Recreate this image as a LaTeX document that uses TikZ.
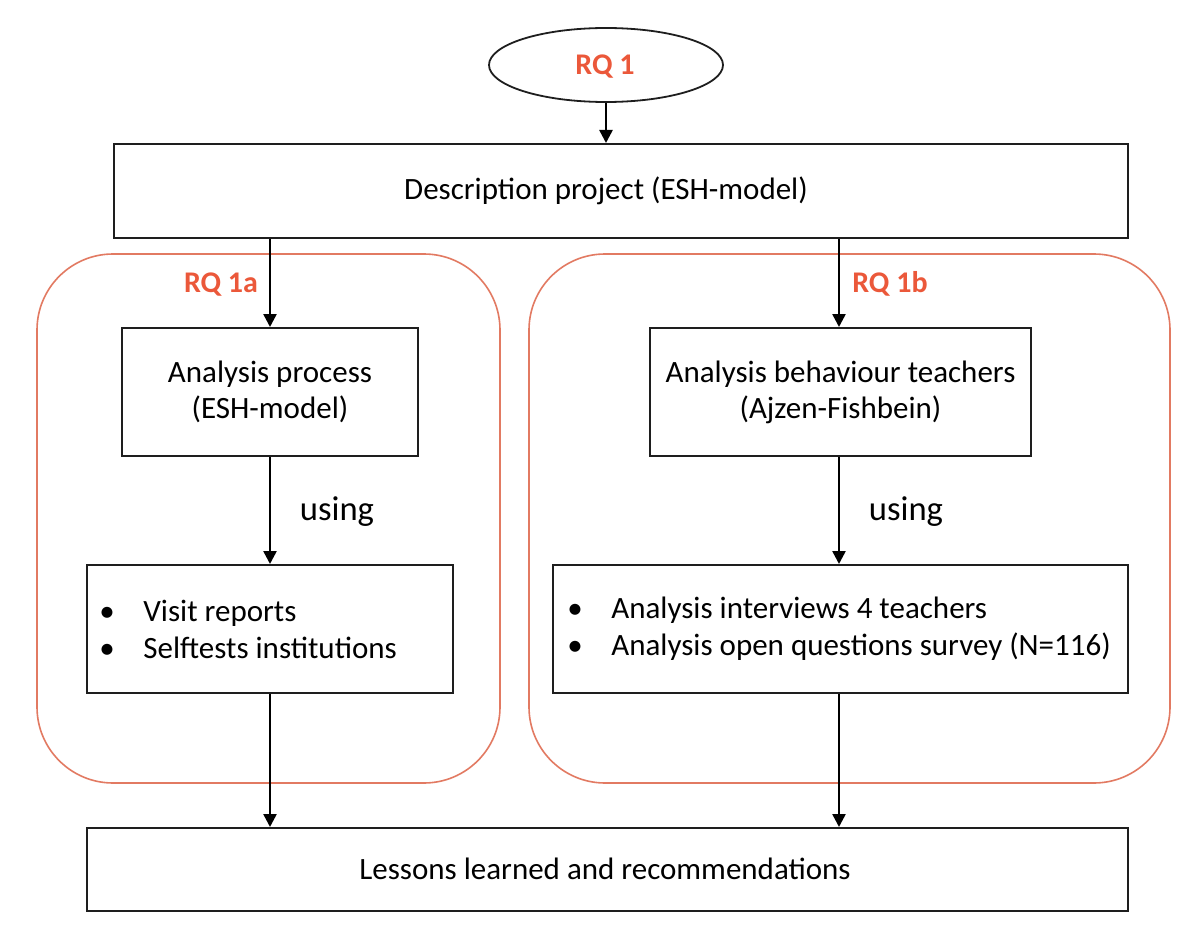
\documentclass[tikz,border=0pt]{standalone}
\usepackage{fontspec}
\setmainfont{Carlito}
\usetikzlibrary{arrows.meta,shapes.geometric}
\definecolor{rqtext}{RGB}{235,88,58}
\definecolor{rqline}{RGB}{226,122,98}
\definecolor{boxline}{RGB}{30,30,30}
\tikzset{
  px/.style={x=0.5pt,y=-0.5pt},
  box/.style={draw=boxline,line width=1pt,inner sep=0pt,align=center,font=\fontsize{15.5}{18}\selectfont},
  group/.style={draw=rqline,line width=0.8pt,rounded corners=38pt},
  rqlabel/.style={text=rqtext,font=\fontsize{15}{18}\selectfont\bfseries,inner sep=0pt},
  arr/.style={-{Triangle[length=6.5pt,width=6.5pt]},line width=1.25pt,black},
  usinglabel/.style={font=\fontsize{17.3}{20}\selectfont,inner sep=0pt},
  listtext/.style={anchor=west,align=left,inner sep=0pt,font=\fontsize{15.5}{18.5}\selectfont}
}
\newcommand{\bitem}[1]{\makebox[22pt][l]{•}#1}
\begin{document}
\begin{tikzpicture}[px]
\useasboundingbox (0,0) rectangle (1200,947);
% groups
\draw[group] (37,254) rectangle (500,783);
\draw[group] (529,254) rectangle (1170,783);
% nodes
\node[draw=boxline,line width=0.9pt,ellipse,minimum width=117pt,minimum height=37pt,inner sep=0pt] (rq) at (606,65) {};
\node[rqlabel] (rqt) at (605,67) {RQ 1};
\node[box,minimum width=507pt,minimum height=47pt] (desc) at (621,191) {};
\node[font=\fontsize{15.5}{18}\selectfont,inner sep=0pt] (desct) at (606,191) {Description project (ESH-model)};
\node[box,minimum width=148pt,minimum height=64pt] (ana) at (270,392) {Analysis process\\(ESH-model)};
\node[box,minimum width=190.5pt,minimum height=64pt] (anb) at (840.5,392) {Analysis behaviour teachers\\(Ajzen-Fishbein)};
\node[box,minimum width=183pt,minimum height=64pt] (lista) at (270,629) {};
\node[box,minimum width=287.5pt,minimum height=64pt] (listb) at (840.5,629) {};
\node[listtext] (lta) at (99,629) {\bitem{Visit reports}\\\bitem{Selftests institutions}};
\node[listtext] (ltb) at (567,629) {\bitem{Analysis interviews 4 teachers}\\\bitem{Analysis open questions survey (N=116)}};
\node[box,minimum width=520.5pt,minimum height=41.5pt] (lessons) at (607.5,869.5) {};
\node[font=\fontsize{15.5}{18}\selectfont,inner sep=0pt] (lessonst) at (605,869) {Lessons learned and recommendations};
\node[rqlabel] (rqa) at (221,285) {RQ 1a};
\node[rqlabel] (rqb) at (890,284) {RQ 1b};
\node[usinglabel] (usa) at (337,512) {using};
\node[usinglabel] (usb) at (906,512) {using};
% connectors
\coordinate (bx) at (839,0);
\draw[arr] (rq.south) -- (rq.south |- desc.north);
\draw[arr] (ana.north |- desc.south) -- (ana.north);
\draw[arr] (bx |- desc.south) -- (bx |- anb.north);
\draw[arr] (ana.south) -- (lista.north);
\draw[arr] (bx |- anb.south) -- (bx |- listb.north);
\draw[arr] (lista.south) -- (lista.south |- lessons.north);
\draw[arr] (bx |- listb.south) -- (bx |- lessons.north);
\end{tikzpicture}
\end{document}
